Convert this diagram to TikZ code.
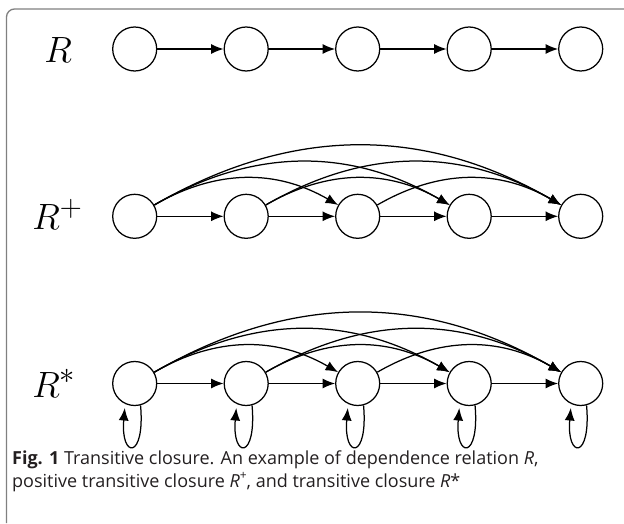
\documentclass[tikz,border=0pt]{standalone}
\usepackage{fontspec}
\usetikzlibrary{arrows.meta}
\newfontfamily\capfont{Open Sans}
\definecolor{framegray}{RGB}{128,128,128}
\definecolor{captionink}{RGB}{35,31,32}
\begin{document}
\begin{tikzpicture}[x=1pt,y=1pt,
  state/.style={circle,draw,line width=1.25pt,minimum size=44pt,inner sep=0pt},
  edge/.style={line width=1.25pt,-{Latex[length=12.5pt,width=10pt]}},
  rowlabel/.style={anchor=base west,inner sep=0pt,font=\Huge,scale=1.47},
  captext/.style={anchor=base west,inner sep=0pt,text=captionink,font=\capfont\fontsize{18}{22}\selectfont}]
\useasboundingbox (0,0) rectangle (624,523);

% frame
\draw[draw=framegray,line width=1.3pt,rounded corners=8pt] (6.5,0) -- (6.5,514) -- (624,514);

% row labels
\node[rowlabel] (lr)  at (44,460.3) {$R$};
\node[rowlabel] (lrp) at (32,293)   {$R^+$};
\node[rowlabel] (lrs) at (32,126)   {$R^*$};

% states of the three rows
\foreach \i/\x in {1/134.7,2/246.2,3/357.7,4/469.2,5/580.7} {
  \node[state] (a\i) at (\x,474) {};
  \node[state] (b\i) at (\x,306.7) {};
  \node[state] (c\i) at (\x,139.5) {};
}

% direct successor edges
\foreach \i/\j in {1/2,2/3,3/4,4/5} {
  \draw[edge] (a\i) -- (a\j);
  \draw[edge] (b\i) -- (b\j);
  \draw[edge] (c\i) -- (c\j);
}

% transitive edges
\foreach \i/\j in {1/3,1/4,1/5,2/4,2/5,3/5} {
  \draw[edge] (b\i) to[bend left=30] (b\j);
  \draw[edge] (c\i) to[bend left=30] (c\j);
}

% reflexive loops
\foreach \i in {1,...,5}
  \draw[edge,shorten >=4pt] (c\i.-75) .. controls +(-85:55) and +(-95:55) .. (c\i.-115);

% caption
\node[captext] (cap1) at (12,59) {\textbf{Fig. 1} Transitive closure. An example of dependence relation \textit{R},};
\node[captext] (cap2) at (12,36) {positive transitive closure \textit{R}\raisebox{0.42em}{\fontsize{12}{12}\selectfont +}, and transitive closure \textit{R}*};
\end{tikzpicture}
\end{document}
